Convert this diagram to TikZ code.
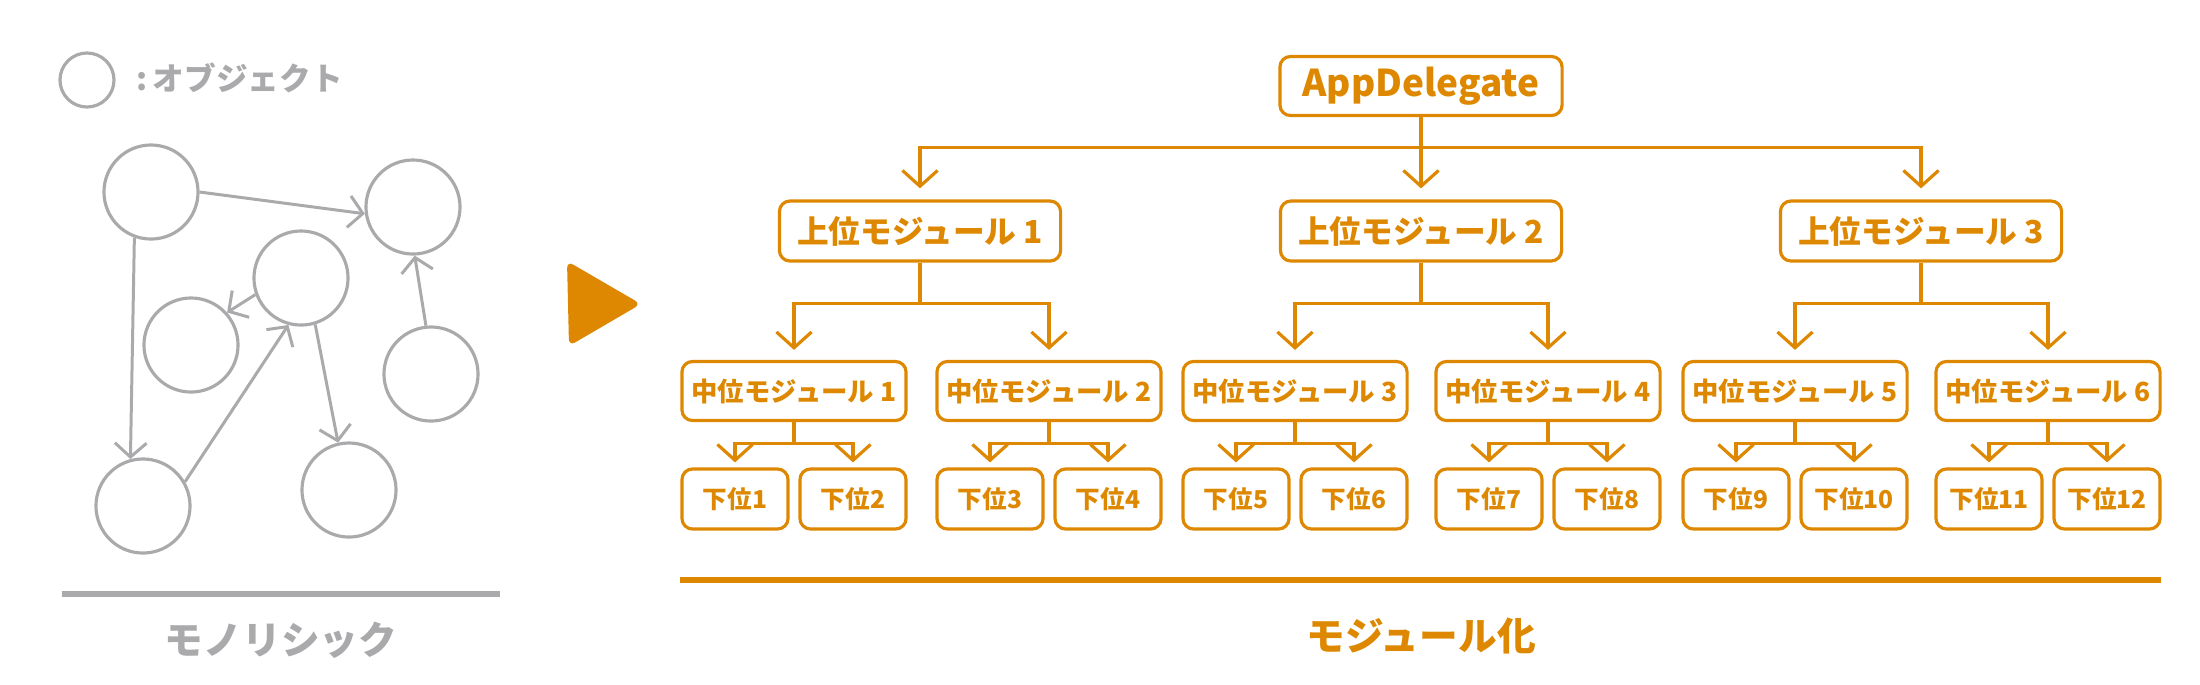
\documentclass[tikz,border=0pt]{standalone}
\usepackage{fontspec}
\setmainfont{Noto Sans CJK JP}
\usetikzlibrary{arrows.meta}
\definecolor{objgray}{HTML}{AAAAAD}
\definecolor{modorange}{HTML}{DD8800}
\tikzset{
  obj/.style = {circle, draw=objgray, line width=0.9pt, minimum size=0.94cm, inner sep=0pt},
  objarrow/.style = {draw=objgray, line width=0.85pt, -{Straight Barb[length=4pt,width=9pt]}},
  modbox/.style = {draw=modorange, line width=0.9pt, rounded corners=3pt, inner sep=0pt,
                   text=modorange, font=\bfseries},
  modarrow/.style = {draw=modorange, line width=0.9pt, -{Straight Barb[length=4.5pt,width=10pt]}},
}
\begin{document}
\begin{tikzpicture}[x=0.01cm, y=-0.01cm]
        \useasboundingbox (0,0) rectangle (2200,684);

        % monolithic side
        \node[obj, minimum size=0.54cm] (legend) at (87,80) {};
        \node[right, text=objgray, font=\fontsize{9}{9}\selectfont\bfseries] (legendtext) at (124,78) {:\,オブジェクト};

        \node[obj] (A) at (151,192) {};
        \node[obj] (B) at (413,207) {};
        \node[obj] (C) at (301,278) {};
        \node[obj] (D) at (191,345) {};
        \node[obj] (E) at (431,374) {};
        \node[obj] (F) at (143,506) {};
        \node[obj] (G) at (349,490) {};

        \draw[objarrow] (A.0) -- (B.188);
        \draw[objarrow] (A.250) -- (F.105);
        \draw[objarrow] (F.30) -- (C.255);
        \draw[objarrow] (C.200) -- (D.42);
        \draw[objarrow] (C.287) -- (G.103);
        \draw[objarrow] (E.96) -- (B.272);

        \draw[objgray, line width=1.5pt] (62,594) -- (500,594);
        \node[text=objgray, font=\fontsize{11}{11}\selectfont\bfseries] (monolabel) at (281,640) {モノリシック};

        \fill[modorange, rounded corners=2pt] (567,261) -- (641,304) -- (569,346) -- cycle;

        % modular side
        \node[modbox, minimum width=2.82cm, minimum height=0.59cm, font=\fontsize{10.5}{10.5}\selectfont\bfseries] (app) at (1421,86) {AppDelegate};

        \foreach \i/\x in {1/920, 2/1421, 3/1921} {
            \node[modbox, minimum width=2.81cm, minimum height=0.60cm, font=\fontsize{9}{9}\selectfont\bfseries] (up\i) at (\x,231) {上位モジュール \i};
            \draw[modarrow, shorten >=0.11cm] (app.south) -- ++(0,30) -| (up\i.north);
        }

        \foreach \i/\x/\p in {1/794/1, 2/1049/1, 3/1295/2, 4/1548/2, 5/1795/3, 6/2048/3} {
            \node[modbox, minimum width=2.24cm, minimum height=0.59cm, font=\fontsize{7.5}{7.5}\selectfont\bfseries] (mid\i) at (\x,391) {中位モジュール \i};
            \draw[modarrow, shorten >=0.1cm] (up\p.south) -- ++(0,41) -| (mid\i.north);
        }

        \foreach \i/\x/\p in {1/735/1, 2/853/1, 3/990/2, 4/1108/2, 5/1236/3, 6/1354/3,
                              7/1489/4, 8/1607/4, 9/1736/5, 10/1854/5, 11/1989/6, 12/2107/6} {
            \node[modbox, minimum width=1.06cm, minimum height=0.60cm, font=\fontsize{7}{7}\selectfont\bfseries] (low\i) at (\x,499) {下位\i};
            \draw[modarrow, shorten >=0.05cm] (mid\p.south) -- ++(0,21) -| (low\i.north);
        }

        \draw[modorange, line width=1.5pt] (680,580) -- (2161,580);
        \node[text=modorange, font=\fontsize{11}{11}\selectfont\bfseries] (modlabel) at (1421,636) {モジュール化};

    \end{tikzpicture}
\end{document}
